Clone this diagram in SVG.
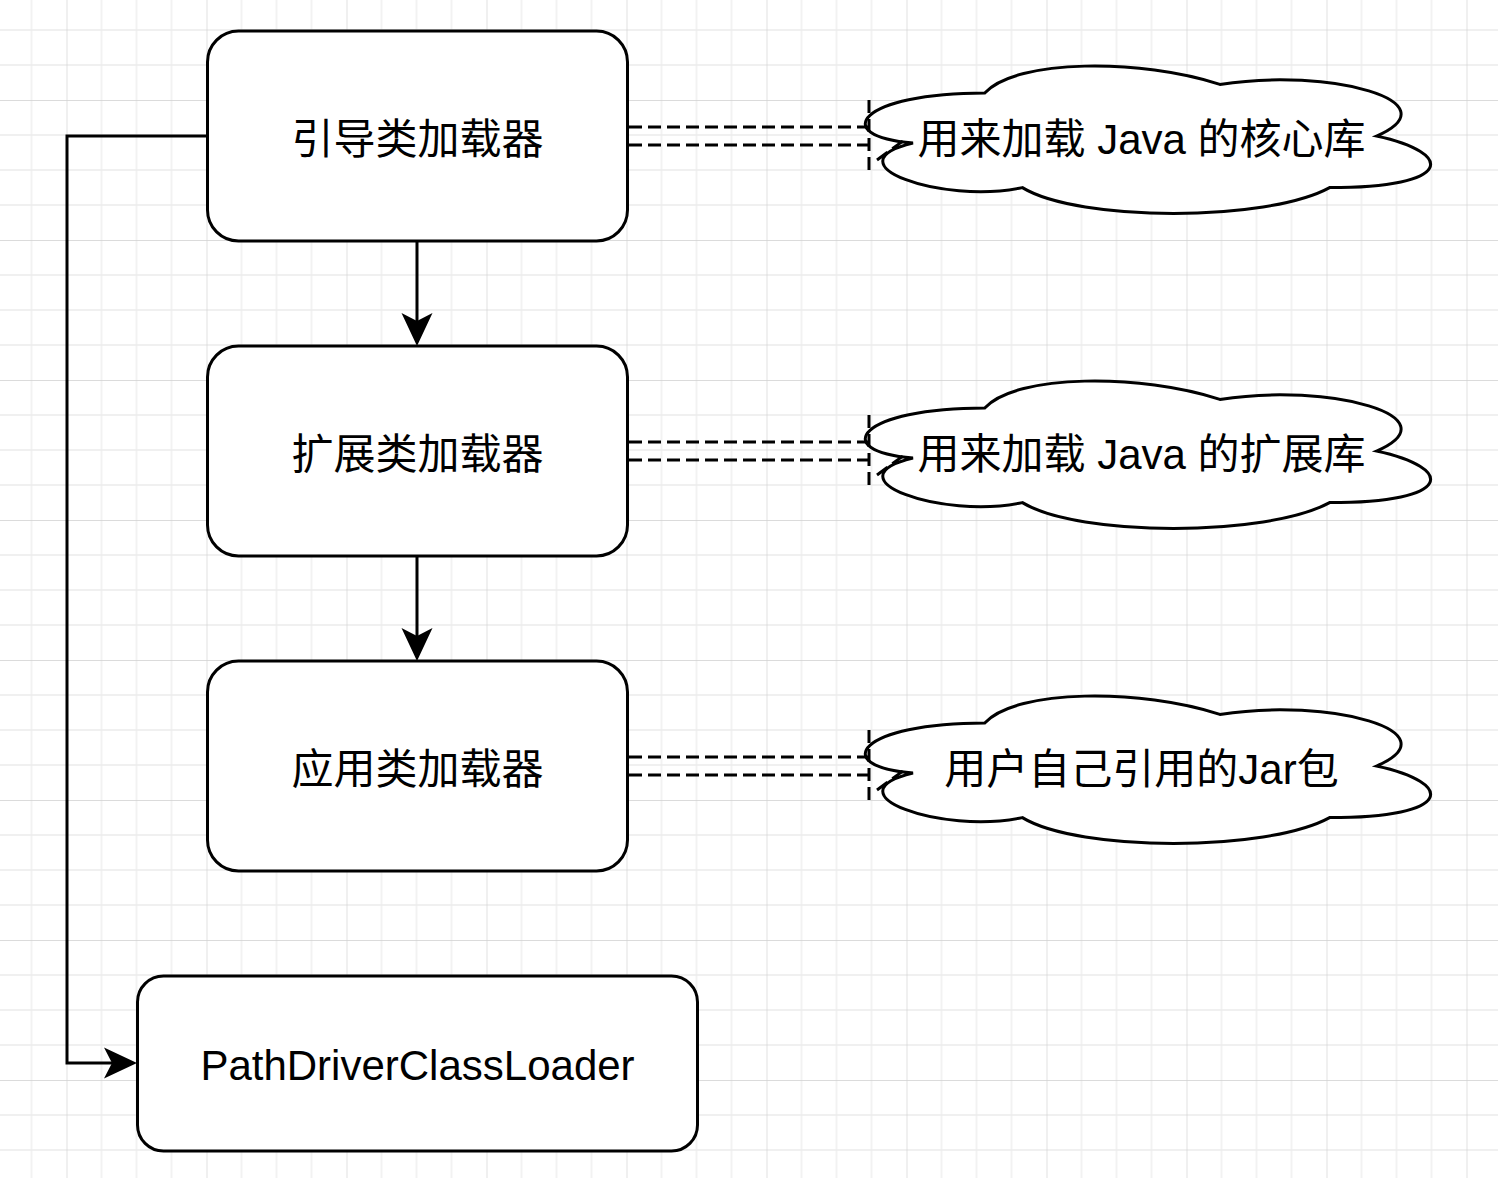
<svg xmlns="http://www.w3.org/2000/svg" width="1498" height="1178" viewBox="0 0 1498 1178">
<style>
.box{fill:#ffffff;stroke:#000000;stroke-width:3}
.cloud{fill:#ffffff;stroke:#000000;stroke-width:3;stroke-linejoin:miter}
.lbl{font-family:"Liberation Sans","Noto Sans CJK SC",sans-serif;font-size:42px;fill:#000000;text-anchor:middle}
.edge{fill:none;stroke:#000000;stroke-width:3}
.link{fill:none;stroke:#000000;stroke-width:3;stroke-dasharray:13 6}
</style>
<defs>
<pattern id="grid" x="66.5" y="100" width="140" height="140" patternUnits="userSpaceOnUse">
<path d="M35,0V140M70,0V140M105,0V140M0,35H140M0,70H140M0,105H140" stroke="#ececec" stroke-width="1.3" fill="none"/>
<path d="M0,0V140M0,0H140" stroke="#d0d0d0" stroke-width="1.3" fill="none"/>
</pattern>
<marker id="arrow" viewBox="0 0 34 32" refX="8" refY="16" markerWidth="34" markerHeight="32" markerUnits="userSpaceOnUse" orient="auto">
<path d="M33,16 L0,0.5 L8,16 L0,31.5 Z" fill="#000000"/>
</marker>
<path id="cloudShape" d="M984.75,93 C859.35,93 828,136 913,143 C828,163.5 940.9,204.8 1022.4,187.6 C1078.8,222 1266.9,222 1329.6,187.6 C1455,187.6 1455,153.2 1376.6,136 C1455,101.6 1329.6,67.2 1219.9,84.4 C1141.5,58.6 1016.1,58.6 984.75,93 Z"/>
</defs>
<rect x="0" y="0" width="1498" height="1178" fill="#ffffff"/>
<rect x="0" y="0" width="1498" height="1178" fill="url(#grid)"/>

<g id="node-bootstrap">
<rect class="box" x="207.5" y="31" width="420" height="210" rx="31" ry="31"/>
<text class="lbl" x="417.5" y="154">引导类加载器</text>
</g>
<g id="node-extension">
<rect class="box" x="207.5" y="346" width="420" height="210" rx="31" ry="31"/>
<text class="lbl" x="417.5" y="469">扩展类加载器</text>
</g>
<g id="node-application">
<rect class="box" x="207.5" y="661" width="420" height="210" rx="31" ry="31"/>
<text class="lbl" x="417.5" y="784">应用类加载器</text>
</g>
<g id="node-pathdriver">
<rect class="box" x="137.5" y="976" width="560" height="175" rx="26" ry="26"/>
<text class="lbl" x="417.5" y="1080">PathDriverClassLoader</text>
</g>

<g id="cloud-core">
<use href="#cloudShape" class="cloud"/>
<text class="lbl" x="1141.5" y="154">用来加载 Java 的核心库</text>
</g>
<g id="cloud-ext">
<use href="#cloudShape" class="cloud" transform="translate(0,315)"/>
<text class="lbl" x="1141.5" y="469">用来加载 Java 的扩展库</text>
</g>
<g id="cloud-jar">
<use href="#cloudShape" class="cloud" transform="translate(0,630)"/>
<text class="lbl" x="1141.5" y="784">用户自己引用的Jar包</text>
</g>

<g id="connectors">
<path class="edge" d="M417,241 V321" marker-end="url(#arrow)"/>
<path class="edge" d="M417,556 V636" marker-end="url(#arrow)"/>
<path class="edge" d="M207,136 H67 V1063 H112" marker-end="url(#arrow)"/>
<g id="link1">
<path class="link" d="M629,127 H869 M629,145 H869 M869,100 V170 M877,160 L903,141"/>
</g>
<g id="link2" transform="translate(0,315)">
<path class="link" d="M629,127 H869 M629,145 H869 M869,100 V170 M877,160 L903,141"/>
</g>
<g id="link3" transform="translate(0,630)">
<path class="link" d="M629,127 H869 M629,145 H869 M869,100 V170 M877,160 L903,141"/>
</g>
</g>
</svg>
